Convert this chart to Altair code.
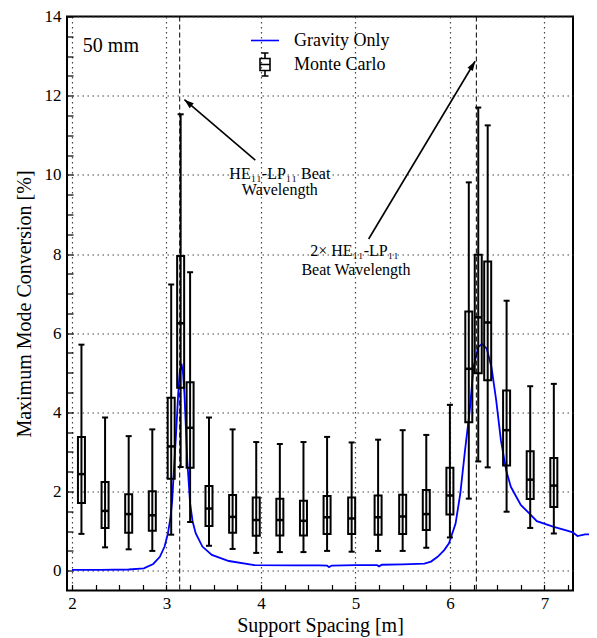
import math
import altair as alt
import pandas as pd

# ---------------- data ----------------
positions = [2.10, 2.35, 2.60, 2.85, 3.05, 3.15, 3.25, 3.45, 3.70, 3.95, 4.20, 4.45,
             4.70, 4.96, 5.24, 5.50, 5.75, 6.00, 6.20, 6.30, 6.40, 6.60, 6.85, 7.10]
whisker_lo = [0.93, 0.59, 0.54, 0.50, 0.91, 2.62, 1.23, 0.63, 0.55, 0.45, 0.47, 0.47,
              0.50, 0.48, 0.50, 0.50, 0.58, 0.84, 1.82, 2.76, 2.61, 1.49, 1.08, 0.94]
q1 = [1.71, 1.08, 0.96, 1.01, 2.32, 4.62, 2.60, 1.13, 0.96, 0.88, 0.89, 0.89,
      0.93, 0.93, 0.91, 0.93, 1.03, 1.42, 3.75, 4.99, 4.81, 2.66, 1.81, 1.61]
median = [2.44, 1.51, 1.43, 1.40, 3.14, 6.25, 3.61, 1.57, 1.36, 1.28, 1.28, 1.26,
          1.35, 1.32, 1.35, 1.37, 1.43, 1.90, 5.10, 6.40, 6.27, 3.55, 2.30, 2.15]
q3 = [3.38, 2.24, 1.93, 2.01, 4.37, 7.95, 4.76, 2.14, 1.91, 1.85, 1.82, 1.77,
      1.89, 1.85, 1.90, 1.92, 2.04, 2.60, 6.55, 7.98, 7.81, 4.55, 3.02, 2.85]
whisker_hi = [5.71, 3.87, 3.40, 3.57, 7.23, 11.53, 7.54, 3.87, 3.57, 3.25, 3.20, 3.25,
              3.38, 3.24, 3.31, 3.55, 3.43, 4.19, 9.81, 11.70, 11.25, 6.82, 4.66, 4.72]

curve_x = [2.00, 2.30, 2.60, 2.76, 2.86, 2.93, 2.98, 3.015, 3.04, 3.06, 3.08, 3.10,
           3.124, 3.14, 3.159, 3.175, 3.19, 3.22, 3.25, 3.276, 3.31, 3.38, 3.48, 3.66,
           3.93, 4.35, 4.62, 4.70, 4.72, 4.75, 5.00, 5.23, 5.25, 5.28, 5.50, 5.73,
           5.80, 5.87, 5.94, 5.99, 6.06, 6.11, 6.16, 6.21, 6.25, 6.30, 6.34, 6.39,
           6.44, 6.49, 6.54, 6.595, 6.645, 6.75, 6.84, 6.92, 7.10, 7.24, 7.30, 7.35,
           7.43, 7.50]
curve_y = [0.02, 0.02, 0.03, 0.06, 0.17, 0.35, 0.61, 0.94, 1.30, 1.75, 2.60, 3.40,
           4.47, 5.00, 5.23, 5.00, 4.47, 2.79, 1.70, 1.25, 0.94, 0.61, 0.40, 0.245,
           0.14, 0.135, 0.135, 0.13, 0.09, 0.13, 0.14, 0.14, 0.11, 0.15, 0.16, 0.18,
           0.23, 0.35, 0.52, 0.69, 1.19, 1.95, 3.04, 4.05, 5.14, 5.65, 5.73, 5.61,
           5.14, 4.30, 3.29, 2.54, 2.12, 1.66, 1.45, 1.25, 1.11, 1.01, 0.97, 0.875,
           0.92, 0.92]

beat_lines = [3.14, 6.28]

series_names = ["Gravity Only", "Monte Carlo"]
series_colors = ["#0000ff", "#000000"]

label_text = ["50 mm"]
label_x = [2.115]
label_y = [13.25]

note_text = ["HE₁₁-LP₁₁ Beat", "Wavelength", "2× HE₁₁-LP₁₁", "Beat Wavelength"]
note_x = [4.20, 4.20, 4.99, 5.005]
note_y = [10.02, 9.62, 8.08, 7.60]

arrow_tail_x = [3.94, 5.14]
arrow_tail_y = [10.37, 8.38]
arrow_head_x = [3.19, 6.267]
arrow_head_y = [11.90, 12.87]

x_major = [2, 3, 4, 5, 6, 7]
y_major = [0, 2, 4, 6, 8, 10, 12, 14]
x_minor = [2 + 0.25 * i for i in range(22)]
y_minor = [0.5 * i for i in range(29)]

# ---------------- layout ----------------
W, H = 506, 574
XMIN, XMAX = 2.0, 7.25
YMIN, YMAX = -0.5, 14.0
FONT = "Liberation Serif"

xs = alt.Scale(domain=[XMIN, XMAX], nice=False, zero=False)
ys = alt.Scale(domain=[YMIN, YMAX], nice=False, zero=False)

# arrow angles (screen space)
sx = W / (XMAX - XMIN)
sy = H / (YMAX - YMIN)
angles = []
for tx, ty, hx, hy in zip(arrow_tail_x, arrow_tail_y, arrow_head_x, arrow_head_y):
    dx = (hx - tx) * sx
    dy = -(hy - ty) * sy
    angles.append(math.degrees(math.atan2(dx, -dy)) % 360)

box_df = pd.DataFrame({"pos": positions, "lo": whisker_lo, "q1": q1,
                       "med": median, "q3": q3, "hi": whisker_hi})
curve_df = pd.DataFrame({"x": curve_x, "y": curve_y})
beat_df = pd.DataFrame({"x": beat_lines})
label_df = pd.DataFrame({"t": label_text, "x": label_x, "y": label_y})
note_df = pd.DataFrame({"t": note_text, "x": note_x, "y": note_y})
arrow_df = pd.DataFrame({"tx": arrow_tail_x, "ty": arrow_tail_y,
                         "hx": arrow_head_x, "hy": arrow_head_y, "ang": angles})
legend_df = pd.DataFrame({"series": series_names})

grid_axis_x = alt.Axis(values=x_major, grid=True, ticks=False, domain=False,
                       orient="bottom", title="Support Spacing [m]", format="d",
                       labelFont=FONT, labelFontSize=17, labelColor="black",
                       labelPadding=5, titleFont=FONT, titleFontSize=20,
                       titleFontWeight="normal", titleColor="black", titlePadding=4,
                       gridColor="#444444", gridDash=[1.5, 3.5], gridWidth=1.2)
grid_axis_y = alt.Axis(values=y_major, grid=True, ticks=False, domain=False,
                       orient="left", title="Maximum Mode Conversion [%]", format="d",
                       labelFont=FONT, labelFontSize=17, labelColor="black",
                       labelPadding=6, titleFont=FONT, titleFontSize=20,
                       titleFontWeight="normal", titleColor="black", titlePadding=10,
                       gridColor="#444444", gridDash=[1.5, 3.5], gridWidth=1.2)
tick_axis_x = alt.Axis(values=x_minor, orient="top", offset=-H, labels=False,
                       grid=False, domain=False, ticks=True, tickSize=6,
                       tickWidth=1.2, tickColor="black", title=None)
tick_axis_y = alt.Axis(values=y_minor, orient="right", offset=-W, labels=False,
                       grid=False, domain=False, ticks=True, tickSize=6,
                       tickWidth=1.2, tickColor="black", title=None)

base_box = alt.Chart(box_df)

whiskers = base_box.mark_rule(color="black", strokeWidth=2).encode(
    x=alt.X("pos:Q", scale=xs, axis=tick_axis_x),
    y=alt.Y("lo:Q", scale=ys, axis=tick_axis_y),
    y2="hi:Q",
)
boxes = base_box.mark_bar(size=7, fill="transparent", stroke="black",
                          strokeWidth=2).encode(
    x=alt.X("pos:Q", scale=xs, axis=None),
    y=alt.Y("q1:Q", scale=ys, axis=None),
    y2="q3:Q",
)
medians = base_box.mark_tick(orient="horizontal", size=7, thickness=2.5,
                             color="black", opacity=1).encode(
    x=alt.X("pos:Q", scale=xs, axis=None),
    y=alt.Y("med:Q", scale=ys, axis=None),
)
caps_hi = base_box.mark_tick(orient="horizontal", size=6, thickness=2,
                             color="black", opacity=1).encode(
    x=alt.X("pos:Q", scale=xs, axis=None),
    y=alt.Y("hi:Q", scale=ys, axis=None),
)
caps_lo = base_box.mark_tick(orient="horizontal", size=6, thickness=2,
                             color="black", opacity=1).encode(
    x=alt.X("pos:Q", scale=xs, axis=None),
    y=alt.Y("lo:Q", scale=ys, axis=None),
)

beat = alt.Chart(beat_df).mark_rule(color="black", strokeWidth=1,
                                    strokeDash=[5, 3]).encode(
    x=alt.X("x:Q", scale=xs, axis=None),
)

curve = alt.Chart(curve_df).mark_line(color="#0000ff", strokeWidth=1.8,
                                      clip=False).encode(
    x=alt.X("x:Q", scale=xs, axis=grid_axis_x),
    y=alt.Y("y:Q", scale=ys, axis=grid_axis_y),
    order="x:Q",
)

label = alt.Chart(label_df).mark_text(font=FONT, fontSize=20, align="left",
                                      baseline="middle", color="black").encode(
    x=alt.X("x:Q", scale=xs, axis=None),
    y=alt.Y("y:Q", scale=ys, axis=None),
    text="t:N",
)
notes = alt.Chart(note_df).mark_text(font=FONT, fontSize=16, align="center",
                                     baseline="middle", color="black").encode(
    x=alt.X("x:Q", scale=xs, axis=None),
    y=alt.Y("y:Q", scale=ys, axis=None),
    text="t:N",
)
arrow_lines = alt.Chart(arrow_df).mark_rule(color="black", strokeWidth=1.6).encode(
    x=alt.X("tx:Q", scale=xs, axis=None),
    y=alt.Y("ty:Q", scale=ys, axis=None),
    x2="hx:Q",
    y2="hy:Q",
)
arrow_heads = alt.Chart(arrow_df).mark_point(
    shape="M0,0L-0.5,1.5L0.5,1.5Z", filled=True, color="black", size=160,
    opacity=1).encode(
    x=alt.X("hx:Q", scale=xs, axis=None),
    y=alt.Y("hy:Q", scale=ys, axis=None),
    angle=alt.Angle("ang:Q", scale=None),
)

box_icon = ("M0,-1.15V-0.6M-0.35,-1.15H0.35M-0.5,-0.6H0.5V0.6H-0.5Z"
            "M-0.5,0H0.5M0,0.6V1.15M-0.35,1.15H0.35")
legend_layer = alt.Chart(legend_df).mark_point(filled=False, strokeWidth=1.6,
                                               size=400, opacity=1).encode(
    shape=alt.Shape("series:N",
                    scale=alt.Scale(domain=series_names,
                                    range=["M-1.4,0H1.4", box_icon]),
                    legend=alt.Legend(title=None)),
    color=alt.Color("series:N",
                    scale=alt.Scale(domain=series_names, range=series_colors),
                    legend=alt.Legend(title=None)),
).transform_filter("false")

chart = alt.layer(
    curve, whiskers, boxes, medians, caps_hi, caps_lo, beat,
    arrow_lines, arrow_heads, notes, label, legend_layer,
).resolve_axis(
    x="independent", y="independent"
).properties(
    width=W, height=H,
    autosize=alt.AutoSizeParams(type="none"),
    padding={"left": 59, "top": 8.5, "right": 16, "bottom": 47},
).configure_view(
    stroke="black", strokeWidth=2
).configure_legend(
    orient="none", legendX=187, legendY=13, padding=0, rowPadding=0,
    labelFont=FONT, labelFontSize=18, labelColor="black", labelOffset=18,
    symbolSize=400, symbolStrokeWidth=1.6, symbolType="circle",
    labelLimit=300,
)

chart.save("out.html", embed_options={"renderer": "svg", "actions": False})
